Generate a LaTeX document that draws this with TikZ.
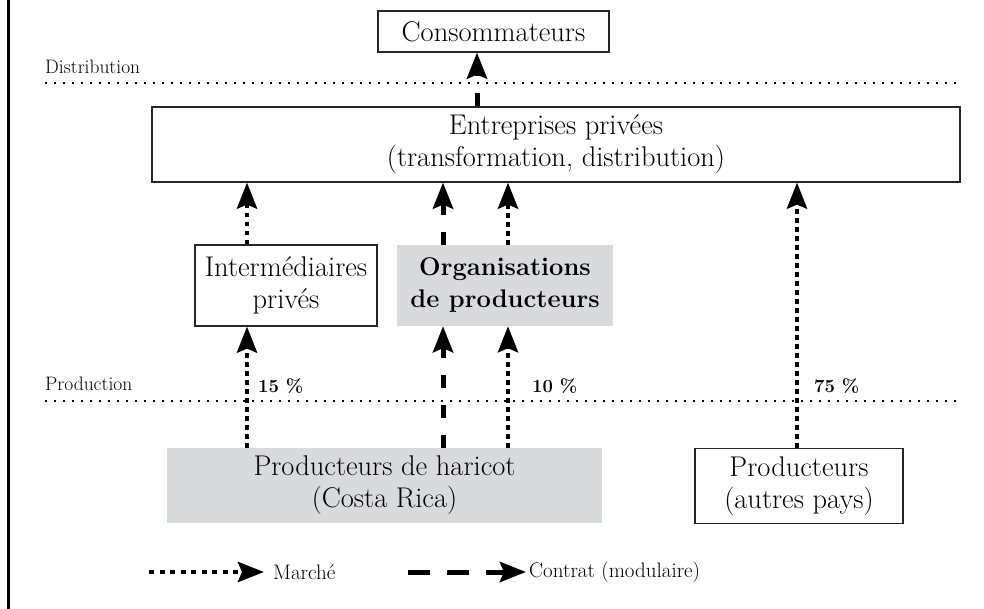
\documentclass[tikz,border=0pt]{standalone}
\usepackage{fontspec}
\usetikzlibrary{arrows.meta}
\definecolor{boxgray}{RGB}{217,218,220}
\newcommand\dfbig{\fontsize{28.5}{32}\selectfont}
\newcommand\dfbold{\fontsize{25.5}{32}\selectfont\bfseries}
\newcommand\dfmid{\fontsize{21}{24}\selectfont}
\newcommand\dfsmall{\fontsize{19.5}{22}\selectfont}
\newcommand\dfpct{\fontsize{18.5}{22}\selectfont\bfseries}
\begin{document}
\begin{tikzpicture}[x=1pt,y=-1pt,
  box/.style={draw=black!85, line width=1.2pt, inner sep=0pt, align=center, font=\dfbig},
  graybox/.style={fill=boxgray, inner sep=0pt, align=center, font=\dfbig},
  tipbig/.style={-{Stealth[length=26pt,width=20pt,inset=4pt]}},
  mkt/.style={tipbig, line width=4.5pt, dash pattern=on 4.5pt off 4.5pt},
  ctr/.style={tipbig, line width=5pt, dash pattern=on 13pt off 17pt},
  level/.style={line width=2pt, dash pattern=on 2pt off 7pt},
  lbl/.style={anchor=base west, inner sep=0pt, font=\dfsmall},
  pct/.style={anchor=base west, inner sep=0pt, font=\dfpct},
  leg/.style={anchor=west, inner sep=0pt, font=\dfmid}
]
\useasboundingbox (0,0) rectangle (984,609);
% frame line on the left
\draw[line width=3pt] (8,0) -- (8,609);

% level lines
\coordinate (dl) at (45,83);
\coordinate (dr) at (960,83);
\coordinate (pl) at (45,401);
\coordinate (pr) at (960,401);
\draw[level] (dl) -- (dr);
\draw[level] (pl) -- (pr);
\node[lbl] (distlbl) at (45,74) {Distribution};
\node[lbl] (prodlbl) at (45,390) {Production};

% boxes
\node[box, minimum width=231, minimum height=41] (cons) at (493.5,31.5) {Consommateurs};
\node[box, minimum width=808, minimum height=75] (ent) at (556,144.5) {Entreprises privées\\(transformation, distribution)};
\node[box, minimum width=182, minimum height=81] (inter) at (286,285.5) {Intermédiaires\\privés};
\node[graybox, font=\dfbold, minimum width=216, minimum height=81] (org) at (505,285.5) {Organisations\\de producteurs};
\node[graybox, minimum width=435, minimum height=75] (har) at (384.5,485.5) {Producteurs de haricot\\(Costa Rica)};
\node[box, minimum width=208, minimum height=75] (autres) at (799,486) {Producteurs\\(autres pays)};

% arrow columns
\coordinate (c1) at (247,0);
\coordinate (c2) at (443,0);
\coordinate (c3) at (508,0);
\coordinate (c4) at (797,0);
\coordinate (c5) at (477,0);

\draw[mkt] (har.north -| c1) -- (inter.south -| c1);
\draw[mkt] (inter.north -| c1) -- (ent.south -| c1);
\draw[ctr] (har.north -| c2) -- (org.south -| c2);
\draw[ctr] (org.north -| c2) -- (ent.south -| c2);
\draw[mkt] (har.north -| c3) -- (org.south -| c3);
\draw[mkt] (org.north -| c3) -- (ent.south -| c3);
\draw[mkt] (autres.north -| c4) -- (ent.south -| c4);
\draw[ctr] (ent.north -| c5) -- (cons.south -| c5);

% percentages
\node[pct] (p15) at (258,392) {15 \%};
\node[pct] (p10) at (532,392) {10 \%};
\node[pct] (p75) at (814,392) {75 \%};

% legend
\coordinate (lm1) at (149,572);
\coordinate (lm2) at (264,572);
\coordinate (lc1) at (408,572);
\coordinate (lc2) at (526,572);
\draw[mkt, dash pattern=on 5pt off 5.5pt] (lm1) -- (lm2);
\node[leg] (lmk) at (273,572) {Marché};
\draw[tipbig, line width=5pt, dash pattern=on 22pt off 17pt] (lc1) -- (lc2);
\node[leg] (lct) at (529,572) {Contrat (modulaire)};
\end{tikzpicture}
\end{document}
